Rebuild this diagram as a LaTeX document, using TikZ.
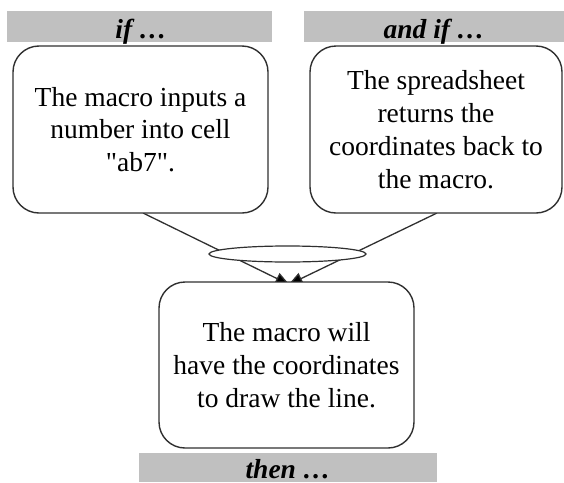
\documentclass[tikz,border=0pt]{standalone}
\usepackage{fontspec}
\setmainfont{Liberation Serif}[Ligatures=TeXOff]
\usetikzlibrary{arrows.meta,shapes.geometric}
\definecolor{bargray}{HTML}{C0C0C0}
\definecolor{edge}{HTML}{303030}
\tikzset{
  box/.style={draw=edge, line width=1.4pt, fill=white, rounded corners=26pt,
    align=center, inner sep=0pt, font=\fontsize{27.5}{32.8}\selectfont},
  bar/.style={fill=bargray, draw=none},
  barlabel/.style={anchor=base, inner sep=0pt, font=\fontsize{27.5}{32}\selectfont\bfseries\itshape},
  conn/.style={draw=edge, line width=1.3pt},
  arr/.style={conn, -{Triangle[length=14pt,width=12pt,fill=black]}, shorten >=-6pt}
}
\begin{document}
\begin{tikzpicture}[x=1pt,y=-1pt]
\useasboundingbox (0,0) rectangle (564,482);
\fill[white] (0,0) rectangle (564,482);
% bars
\fill[bar] (7,11) rectangle (272,42);
\fill[bar] (304,11) rectangle (564,42);
\fill[bar] (139,453) rectangle (437,482);
\node[barlabel] (lif) at (141,38) {if …};
\node[barlabel] (rif) at (434,38) {and if …};
\node[barlabel] (then) at (288,478) {then …};
% connector end points
\coordinate (la) at (143,213);
\coordinate (ra) at (437,213);
\coordinate (lt) at (284,282);
\coordinate (rt) at (294,282);
\draw[arr] (la) -- (lt);
\draw[arr] (ra) -- (rt);
% ellipse
\node[ellipse, draw=edge, line width=1.2pt, fill=white, minimum width=157pt, minimum height=16pt, inner sep=0pt] (ell) at (287.5,254) {};
% boxes
\node[box, minimum width=255pt, minimum height=167pt] (lbox) at (140.5,129.5)
  {The macro inputs a\\number into cell\\"ab7".};
\node[box, minimum width=252pt, minimum height=167pt] (rbox) at (436,129.5)
  {The spreadsheet\\returns the\\coordinates back to\\the macro.};
\node[box, minimum width=255pt, minimum height=166pt] (bbox) at (286.5,365)
  {The macro will\\have the coordinates\\to draw the line.};
\end{tikzpicture}
\end{document}
